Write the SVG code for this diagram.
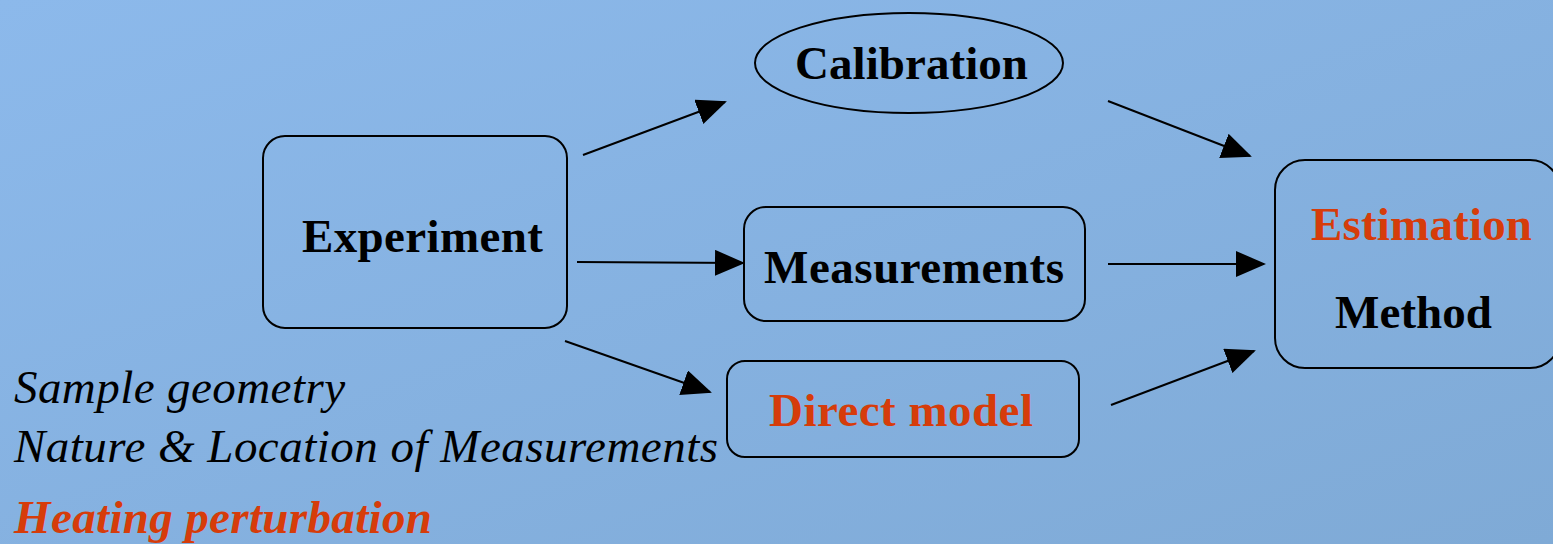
<svg xmlns="http://www.w3.org/2000/svg" width="1553" height="544" viewBox="0 0 1553 544">
  <defs>
    <linearGradient id="bg" x1="0" y1="0" x2="1" y2="1">
      <stop offset="0" stop-color="#8cb9eb"/>
      <stop offset="1" stop-color="#7faad6"/>
    </linearGradient>
    <marker id="ah" viewBox="0 0 30 26" refX="28" refY="13" markerWidth="30" markerHeight="26" markerUnits="userSpaceOnUse" orient="auto">
      <path d="M0,0 L30,13 L0,26 Z" fill="#000"/>
    </marker>
    <style>
      .box{fill:none;stroke:#000;stroke-width:2}
      .lbl{font-family:"Liberation Serif","Times New Roman",serif;font-weight:bold;font-size:47px;fill:#000}
      .it{font-family:"Liberation Serif","Times New Roman",serif;font-style:italic;font-size:47px;fill:#000}
      .red{fill:#d63c0a}
      .conn{stroke:#000;stroke-width:2;fill:none;marker-end:url(#ah)}
    </style>
  </defs>
  <rect width="1553" height="544" fill="url(#bg)"/>

  <g id="experiment">
    <rect class="box" x="263" y="136" width="304" height="192" rx="22"/>
    <text class="lbl" x="302" y="252" textLength="241">Experiment</text>
  </g>
  <g id="calibration">
    <ellipse class="box" cx="909" cy="63" rx="154" ry="50"/>
    <text class="lbl" x="795" y="79" textLength="233">Calibration</text>
  </g>
  <g id="measurements">
    <rect class="box" x="744" y="207" width="341" height="114" rx="22"/>
    <text class="lbl" x="764" y="283" textLength="300">Measurements</text>
  </g>
  <g id="direct-model">
    <rect class="box" x="727" y="361" width="352" height="96" rx="18"/>
    <text class="lbl red" x="769" y="426" textLength="264">Direct model</text>
  </g>
  <g id="estimation-method">
    <rect class="box" x="1275" y="160" width="285" height="208" rx="30"/>
    <text class="lbl red" x="1311" y="240" textLength="221">Estimation</text>
    <text class="lbl" x="1335" y="328" textLength="157">Method</text>
  </g>

  <g id="notes">
    <text class="it" x="14" y="403" textLength="331">Sample geometry</text>
    <text class="it" x="14" y="462" textLength="704">Nature &amp; Location of Measurements</text>
    <text class="it red" font-weight="bold" x="14" y="533" textLength="418">Heating perturbation</text>
  </g>

  <g id="connectors">
    <line class="conn" x1="583" y1="155" x2="725" y2="102"/>
    <line class="conn" x1="577" y1="262" x2="743" y2="263"/>
    <line class="conn" x1="565" y1="341" x2="710" y2="392"/>
    <line class="conn" x1="1108" y1="101" x2="1250" y2="156"/>
    <line class="conn" x1="1108" y1="264" x2="1264" y2="264"/>
    <line class="conn" x1="1111" y1="405" x2="1254" y2="351"/>
  </g>
</svg>
